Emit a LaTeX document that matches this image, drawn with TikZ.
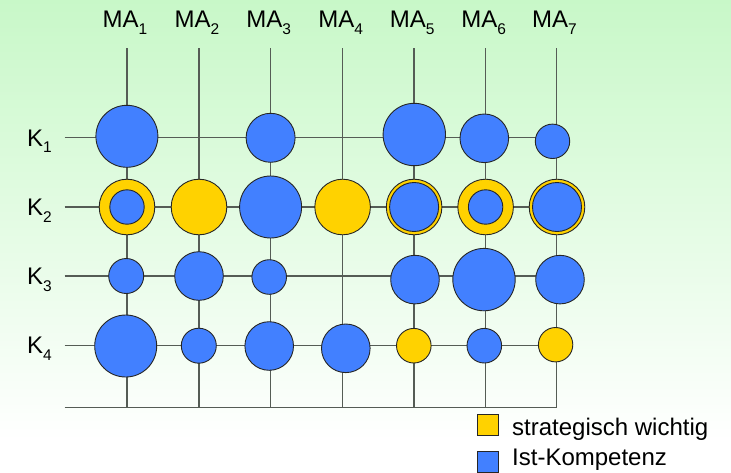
\documentclass[tikz,border=0pt]{standalone}
\usepackage{fontspec}
\setmainfont{Liberation Sans}
\usepackage{tikz}
\usetikzlibrary{positioning}

\definecolor{istblue}{RGB}{66,128,255}
\definecolor{strgelb}{RGB}{255,210,0}
\definecolor{bggreen}{RGB}{200,248,200}
\definecolor{gridgray}{RGB}{85,92,85}

\newcommand{\idx}[1]{\raisebox{-6.7pt}{\fontsize{15.5}{15.5}\selectfont #1}}

\begin{document}
\begin{tikzpicture}[x=1pt,y=-1pt,
    every node/.style={font=\fontsize{24}{28}\selectfont},
    gridline/.style={draw=gridgray,line width=1.3pt},
    ist/.style={circle,draw=black!85,line width=0.9pt,fill=istblue,inner sep=0pt},
    wichtig/.style={circle,draw=black!85,line width=0.9pt,fill=strgelb,inner sep=0pt},
    legbox/.style={draw=black!85,line width=0.9pt,minimum size=21pt,inner sep=0pt}]
        % background
        \shade[top color=bggreen,bottom color=white] (0,0) rectangle (731,440);
        \fill[white] (0,440) rectangle (731,472);
        \useasboundingbox (0,0) rectangle (731,472);

        % grid
        \coordinate (top1) at (127,48);   \coordinate (bot1) at (127,407.3);
        \coordinate (top2) at (199,48);   \coordinate (bot2) at (199,407.3);
        \coordinate (top3) at (270.6,48); \coordinate (bot3) at (270.6,407.3);
        \coordinate (top4) at (342.6,48); \coordinate (bot4) at (342.6,407.3);
        \coordinate (top5) at (414.1,48); \coordinate (bot5) at (414.1,407.3);
        \coordinate (top6) at (485.6,48); \coordinate (bot6) at (485.6,407.3);
        \coordinate (top7) at (556.5,48); \coordinate (bot7) at (556.5,407.3);
        \coordinate (left1) at (64.5,137.7); \coordinate (right1) at (556.5,137.7);
        \coordinate (left2) at (64.5,207);   \coordinate (right2) at (556.5,207);
        \coordinate (left3) at (64.5,276);   \coordinate (right3) at (556.5,276);
        \coordinate (left4) at (64.5,345.3); \coordinate (right4) at (556.5,345.3);
        \coordinate (left5) at (64.5,407.3);

        \path[gridline] (top1) -- (bot1) (top2) -- (bot2) (top3) -- (bot3)
            (top4) -- (bot4) (top5) -- (bot5) (top6) -- (bot6) (top7) -- (bot7);
        \path[gridline] (left1) -- (right1) (left2) -- (right2) (left3) -- (right3)
            (left4) -- (right4) (left5) -- (bot7);

        % labels
        \node[anchor=base] (ma1) at (125,27.3) {MA\idx{1}};
        \node[anchor=base] (ma2) at (197,27.3) {MA\idx{2}};
        \node[anchor=base] (ma3) at (268.6,27.3) {MA\idx{3}};
        \node[anchor=base] (ma4) at (340.6,27.3) {MA\idx{4}};
        \node[anchor=base] (ma5) at (412.1,27.3) {MA\idx{5}};
        \node[anchor=base] (ma6) at (483.6,27.3) {MA\idx{6}};
        \node[anchor=base] (ma7) at (554.5,27.3) {MA\idx{7}};
        \node[anchor=base west,inner sep=0pt] (k1) at (27,146) {K\idx{1}};
        \node[anchor=base west,inner sep=0pt] (k2) at (27,215.3) {K\idx{2}};
        \node[anchor=base west,inner sep=0pt] (k3) at (27,284.3) {K\idx{3}};
        \node[anchor=base west,inner sep=0pt] (k4) at (27,353.6) {K\idx{4}};

        % K1
        \node[ist,minimum size=62pt]   (k1ma1) at (126.9,136.3) {};
        \node[ist,minimum size=49pt]   (k1ma3) at (270.6,137.8) {};
        \node[ist,minimum size=62.4pt] (k1ma5) at (414.3,134.5) {};
        \node[ist,minimum size=48.6pt] (k1ma6) at (484.3,138.3) {};
        \node[ist,minimum size=34.4pt] (k1ma7) at (552.5,141.3) {};
        % K2
        \node[wichtig,minimum size=55.6pt] (k2ma1) at (127,207) {};
        \node[ist,minimum size=34.4pt]     (k2ma1i) at (127,207) {};
        \node[wichtig,minimum size=55.6pt] (k2ma2) at (199,207) {};
        \node[ist,minimum size=62pt]       (k2ma3) at (270.6,207) {};
        \node[wichtig,minimum size=55.6pt] (k2ma4) at (342.6,207) {};
        \node[wichtig,minimum size=55.6pt] (k2ma5) at (414.1,207) {};
        \node[ist,minimum size=49pt]       (k2ma5i) at (414.1,207) {};
        \node[wichtig,minimum size=55.6pt] (k2ma6) at (485.6,207) {};
        \node[ist,minimum size=34.4pt]     (k2ma6i) at (485.6,207) {};
        \node[wichtig,minimum size=55.6pt] (k2ma7) at (557,207) {};
        \node[ist,minimum size=49pt]       (k2ma7i) at (557,207) {};
        % K3
        \node[ist,minimum size=35pt]   (k3ma1) at (126.2,276) {};
        \node[ist,minimum size=48.6pt] (k3ma2) at (199,276) {};
        \node[ist,minimum size=34.6pt] (k3ma3) at (269.2,277) {};
        \node[ist,minimum size=48.6pt] (k3ma5) at (415,279.6) {};
        \node[ist,minimum size=62.4pt] (k3ma6) at (484,279.6) {};
        \node[ist,minimum size=48.6pt] (k3ma7) at (560,279.6) {};
        % K4
        \node[ist,minimum size=62pt]     (k4ma1) at (125.7,346) {};
        \node[ist,minimum size=35pt]     (k4ma2) at (198.8,345.7) {};
        \node[ist,minimum size=48.6pt]   (k4ma3) at (269.2,346) {};
        \node[ist,minimum size=48.6pt]   (k4ma4) at (345.8,348.3) {};
        \node[wichtig,minimum size=34.6pt] (k4ma5) at (413.8,345.7) {};
        \node[ist,minimum size=34.6pt]   (k4ma6) at (484.3,345.7) {};
        \node[wichtig,minimum size=34.4pt] (k4ma7) at (555.6,344.7) {};

        % legend
        \node[legbox,fill=strgelb] (legw) at (487.5,424.5) {};
        \node[legbox,fill=istblue] (legi) at (487.5,461.5) {};
        \node[anchor=base west,inner sep=0pt] (legwt) at (512,435) {strategisch wichtig};
        \node[anchor=base west,inner sep=0pt] (legit) at (512,465) {Ist-Kompetenz};
    \end{tikzpicture}
\end{document}
